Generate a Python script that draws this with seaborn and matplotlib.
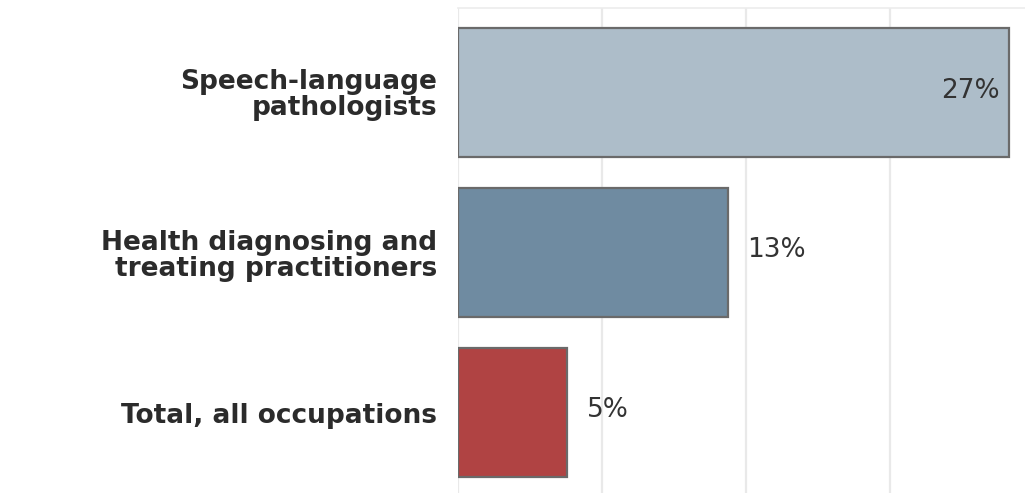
import matplotlib
matplotlib.use("Agg")
import matplotlib.pyplot as plt
import seaborn as sns
import pandas as pd

categories = ["Speech-language\npathologists",
              "Health diagnosing and\ntreating practitioners",
              "Total, all occupations"]
values = [26.8, 13.1, 5.3]
value_labels = ["27%", "13%", "5%"]
bar_colors = ["#ADBDC9", "#6F8BA1", "#B04343"]
grid_ticks = [0, 7, 14, 21]

sns.set_theme(style="white")
plt.rcParams["font.family"] = ["DejaVu Sans"]

df = pd.DataFrame({"category": categories, "value": values})

fig = plt.figure(figsize=(10.25, 4.93), dpi=100)
ax = fig.add_axes([458 / 1025, 0.0, 1 - 458 / 1025, 1 - 8 / 493])

sns.barplot(data=df, y="category", x="value", hue="category",
            palette=bar_colors, legend=False, orient="h", ax=ax,
            width=0.806, edgecolor="#6a6a6a", linewidth=1.6, saturation=1)

ax.set_xlim(0, 27.56)
ax.set_ylim(2.503, -0.528)
ax.set_xticks(grid_ticks)
ax.set_xticklabels([])
ax.tick_params(axis="x", length=0)
ax.grid(axis="x", color="#e9e9e9", linewidth=1.6)
ax.set_axisbelow(True)
ax.set_xlabel("")
ax.set_ylabel("")

for side in ["left", "right", "bottom"]:
    ax.spines[side].set_visible(False)
ax.spines["top"].set_color("#ececec")
ax.spines["top"].set_linewidth(1.2)

ax.tick_params(axis="y", length=0, pad=15)
for lbl in ax.get_yticklabels():
    lbl.set_fontweight("bold")
    lbl.set_fontsize(19)
    lbl.set_color("#2b2b2b")
    lbl.set_linespacing(1.0)
    lbl.set_horizontalalignment("right")
    lbl.set_multialignment("right")

xmax = ax.get_xlim()[1]
for i, (v, t) in enumerate(zip(values, value_labels)):
    if v > 0.8 * xmax:
        ax.annotate(t, xy=(v, i), xytext=(-7, 1), textcoords="offset points",
                    ha="right", va="center", fontsize=19, color="#333333")
    else:
        ax.annotate(t, xy=(v, i), xytext=(14, 2), textcoords="offset points",
                    ha="left", va="center", fontsize=19, color="#333333")

fig.savefig("out.png", dpi=100)
